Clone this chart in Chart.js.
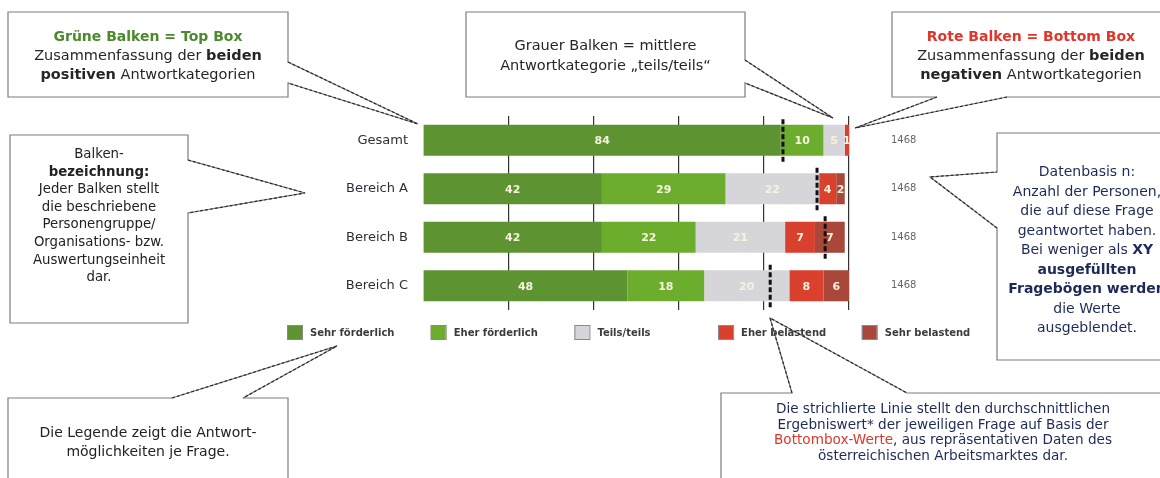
<html>
<head>
<meta charset="utf-8">
<style>
body { margin: 0; background: #fff; }
#wrap { position: relative; width: 1160px; height: 478px; overflow: hidden; }
#chart { position: absolute; left: 0; top: 0; }
svg.callouts { position: absolute; left: 0; top: 0; pointer-events: none; }
div.note {
    position: absolute;
    text-align: center;
    font-family: 'DejaVu Sans', sans-serif;
    white-space: nowrap;
}
.top { font-size: 14.5px; line-height: 19px; color: #262626; }
b.head { font-size: 14px; }
b.green { color: #4a8a2c; }
b.red { color: #e0352a; }
span.red { color: #e0352a; }
.navy { color: #1c2a58; }
</style>
<script src="https://cdn.jsdelivr.net/npm/chart.js"></script>
</head>
<body>
<div id="wrap">
  <canvas id="chart" width="1160" height="478"></canvas>

  <svg class="callouts" width="1160" height="478">
    <g fill="none" stroke="#7d7d7d" stroke-width="1.2">
      <path d="M8,12 L288,12 L288,62 L418,124 L288,83 L288,97 L8,97 Z"/>
      <path d="M466,12 L745,12 L745,60 L833,118 L745,83 L745,97 L466,97 Z"/>
      <path d="M892,12 L1170,12 L1170,97 L1007,97 L855,128 L937,97 L892,97 Z"/>
      <path d="M10,135 L188,135 L188,160 L305,193 L188,213 L188,323 L10,323 Z"/>
      <path d="M997,133 L1170,133 L1170,360 L997,360 L997,228 L930,177 L997,172 Z"/>
      <path d="M8,490 L8,398 L172,398 L337,346 L243,398 L288,398 L288,490 Z"/>
      <path d="M721,490 L721,393 L792,393 L770,318 L907,393 L1170,393 L1170,490 Z"/>
    </g>
    <g fill="none" stroke="#2b2b2b" stroke-width="1.2" stroke-dasharray="3,2">
      <path d="M288,62 L418,124 L288,83"/>
      <path d="M745,60 L833,118 L745,83"/>
      <path d="M1007,97 L855,128 L937,97"/>
      <path d="M188,160 L305,193 L188,213"/>
      <path d="M997,228 L930,177 L997,172"/>
      <path d="M172,398 L337,346 L243,398"/>
      <path d="M792,393 L770,318 L907,393"/>
    </g>
  </svg>

  <div class="note top" style="left:8px; top:27px; width:280px;">
    <b class="head green">Grüne Balken = Top Box</b><br>
    Zusammenfassung der <b>beiden</b><br>
    <b>positiven</b> Antwortkategorien
  </div>
  <div class="note top" style="left:466px; top:35px; width:279px; line-height:20px;">
    Grauer Balken = mittlere<br>
    Antwortkategorie „teils/teils“
  </div>
  <div class="note top" style="left:892px; top:27px; width:278px;">
    <b class="head red">Rote Balken = Bottom Box</b><br>
    Zusammenfassung der <b>beiden</b><br>
    <b>negativen</b> Antwortkategorien
  </div>
  <div class="note" style="left:10px; top:145px; width:178px; font-size:13.3px; line-height:17.6px; color:#222;">
    Balken-<br>
    <b>bezeichnung:</b><br>
    Jeder Balken stellt<br>
    die beschriebene<br>
    Personengruppe/<br>
    Organisations- bzw.<br>
    Auswertungseinheit<br>
    dar.
  </div>
  <div class="note navy" style="left:997px; top:162px; width:180px; font-size:14px; line-height:19.5px;">
    Datenbasis n:<br>
    Anzahl der Personen,<br>
    die auf diese Frage<br>
    geantwortet haben.<br>
    Bei weniger als <b>XY</b><br>
    <b>ausgefüllten</b><br>
    <b>Fragebögen werden</b><br>
    die Werte<br>
    ausgeblendet.
  </div>
  <div class="note" style="left:8px; top:423px; width:280px; font-size:14px; line-height:19px; color:#222;">
    Die Legende zeigt die Antwort-<br>
    möglichkeiten je Frage.
  </div>
  <div class="note navy" style="left:721px; top:401px; width:444px; font-size:13.6px; line-height:15.7px;">
    Die strichlierte Linie stellt den durchschnittlichen<br>
    Ergebniswert* der jeweiligen Frage auf Basis der<br>
    <span class="red">Bottombox-Werte</span>, aus repräsentativen Daten des<br>
    österreichischen Arbeitsmarktes dar.
  </div>
</div>

<script>
// data
const categories = ['Gesamt', 'Bereich A', 'Bereich B', 'Bereich C'];
const seriesNames = ['Sehr förderlich', 'Eher förderlich', 'Teils/teils', 'Eher belastend', 'Sehr belastend'];
const sehrFoerderlich = [84, 42, 42, 48];
const eherFoerderlich = [10, 29, 22, 18];
const teilsTeils = [5, 22, 21, 20];
const eherBelastend = [1, 4, 7, 8];
const sehrBelastend = [0, 2, 7, 6];
const benchmark = [84.5, 92.5, 94.4, 81.5];   // strichlierte Linie
const nValues = [1468, 1468, 1468, 1468];
const xTicks = [0, 20, 40, 60, 80, 100];

const colors = ['#5e9331', '#6cad2e', '#d6d6da', '#d9412e', '#a8473a'];
const allSeries = [sehrFoerderlich, eherFoerderlich, teilsTeils, eherBelastend, sehrBelastend];

const datasets = allSeries.map(function(vals, i) {
    return {
        label: seriesNames[i],
        data: vals,
        backgroundColor: colors[i],
        borderWidth: 0,
        categoryPercentage: 1,
        barPercentage: 0.64
    };
});

// values inside the bars
const valueLabels = {
    id: 'valueLabels',
    afterDatasetsDraw(chart) {
        const ctx = chart.ctx;
        ctx.save();
        ctx.font = 'bold 11px "DejaVu Sans"';
        ctx.fillStyle = '#f6f3dc';
        ctx.textAlign = 'center';
        ctx.textBaseline = 'middle';
        chart.data.datasets.forEach(function(ds, di) {
            chart.getDatasetMeta(di).data.forEach(function(bar, i) {
                const v = ds.data[i];
                if (!v) return;
                ctx.fillText(String(v), (bar.x + bar.base) / 2, bar.y + 1);
            });
        });
        ctx.restore();
    }
};

// dashed benchmark per bar
const benchLines = {
    id: 'benchLines',
    afterDatasetsDraw(chart) {
        const ctx = chart.ctx;
        const xs = chart.scales.x, ys = chart.scales.y;
        ctx.save();
        ctx.strokeStyle = '#111';
        ctx.lineWidth = 3;
        ctx.setLineDash([5, 2.5]);
        benchmark.forEach(function(b, i) {
            const x = xs.getPixelForValue(b);
            const y = ys.getPixelForValue(i);
            ctx.beginPath();
            ctx.moveTo(x, y - 21);
            ctx.lineTo(x, y + 22);
            ctx.stroke();
        });
        ctx.restore();
    }
};

// legend row under the chart
const legendRow = {
    id: 'legendRow',
    afterDraw(chart) {
        const ctx = chart.ctx;
        ctx.save();
        ctx.font = 'bold 10px "DejaVu Sans"';
        ctx.textBaseline = 'middle';
        chart.data.datasets.forEach(function(ds, i) {
            const x0 = 287 + i * 143.7;
            ctx.fillStyle = ds.backgroundColor;
            ctx.fillRect(x0, 325.5, 15, 14);
            ctx.strokeStyle = '#8a8a8a';
            ctx.lineWidth = 1;
            ctx.strokeRect(x0 + 0.5, 325.5, 15, 14);
            ctx.fillStyle = '#3a3a3a';
            ctx.fillText(ds.label, x0 + 23, 333);
        });
        ctx.restore();
    }
};

new Chart(document.getElementById('chart'), {
    type: 'bar',
    data: { labels: categories, datasets: datasets },
    options: {
        indexAxis: 'y',
        responsive: false,
        animation: false,
        layout: { padding: { top: 116, bottom: 168, left: 0, right: 0 } },
        plugins: { legend: { display: false }, tooltip: { enabled: false } },
        scales: {
            x: {
                stacked: true,
                min: xTicks[0],
                max: xTicks[xTicks.length - 1],
                afterBuildTicks(s) { s.ticks = xTicks.map(function(v) { return { value: v }; }); },
                ticks: { display: false },
                grid: {
                    drawTicks: false,
                    lineWidth: 1.2,
                    color: function(c) { return c.tick && c.tick.value === 0 ? 'rgba(0,0,0,0)' : '#333'; }
                },
                border: { display: false },
                afterFit(s) { s.height = 0; }
            },
            y: {
                stacked: true,
                grid: { display: false },
                border: { display: false },
                ticks: { color: '#2e2e3a', padding: 7, font: { family: 'DejaVu Sans', size: 13 } },
                afterFit(s) { s.width = 423; }
            },
            n: {
                axis: 'y',
                type: 'category',
                position: 'right',
                offset: true,
                labels: nValues.map(String),
                grid: { display: false },
                border: { display: false },
                ticks: { color: '#666', padding: 34, font: { family: 'DejaVu Sans', size: 10 } },
                afterFit(s) { s.width = 1160 - 849; }
            }
        }
    },
    plugins: [valueLabels, benchLines, legendRow]
});
</script>
</body>
</html>
